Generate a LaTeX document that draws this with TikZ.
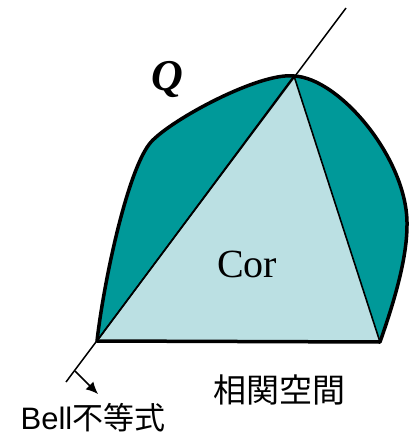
\documentclass[tikz,border=0pt]{standalone}
\usepackage{fontspec}
\setmainfont{Liberation Serif}
\setsansfont{Liberation Sans}
\newfontfamily\cjk{Noto Sans CJK JP}
\usetikzlibrary{positioning,arrows.meta}
\definecolor{qteal}{RGB}{0,153,153}
\definecolor{corblue}{RGB}{187,224,227}

\begin{document}
\begin{tikzpicture}[x=1pt, y=-1pt,
        outline/.style={line width=3.5pt, draw=black, line join=round},
        facet/.style={line width=1.6pt, black},
        bellline/.style={line width=1.5pt, black},
        bigserif/.style={font=\fontsize{40}{48}\selectfont, inner sep=0pt},
        jalabel/.style={font=\fontsize{33}{40}\selectfont\cjk, inner sep=0pt}
    ]
    \useasboundingbox (0,0) rectangle (409,436);

    % corners of the correlation polytope
    \coordinate (A) at (97,341);
    \coordinate (B) at (380,342);
    \coordinate (C) at (294,76);
    % Bell inequality line
    \coordinate (L1) at (66,382);
    \coordinate (L2) at (346,8);
    \coordinate (N1) at (75,371);
    \coordinate (N2) at (98,394);

    % Q region
    \fill[qteal] (A) .. controls (104,280) and (128,168) .. (151,142)
        .. controls (172,119) and (260,72) .. (C)
        .. controls (340,78) and (408,160) .. (407,225)
        .. controls (407,260) and (393,305) .. (B) -- cycle;
    % Cor triangle
    \fill[corblue] (A) -- (B) -- (C) -- cycle;
    \draw[facet] (A) -- (C) -- (B);
    \draw[outline] (A) .. controls (104,280) and (128,168) .. (151,142)
        .. controls (172,119) and (260,72) .. (C)
        .. controls (340,78) and (408,160) .. (407,225)
        .. controls (407,260) and (393,305) .. (B) -- cycle;

    \draw[bellline] (L1) -- (L2);
    \draw[bellline, -{Latex[length=12pt, width=11pt]}] (N1) -- (N2);

    \node[bigserif, anchor=base] (cor) at (247,277) {Cor};
    \node[bigserif, anchor=base, font=\fontsize{44}{50}\selectfont\bfseries\itshape] (q) at (167,90) {Q};
    \node[jalabel] (space) at (279,390) {相関空間};
    \node[inner sep=0pt, anchor=base, font=\fontsize{31}{36}\selectfont] (bell) at (93,429) {{\sffamily Bell}{\cjk 不等式}};
\end{tikzpicture}
\end{document}
